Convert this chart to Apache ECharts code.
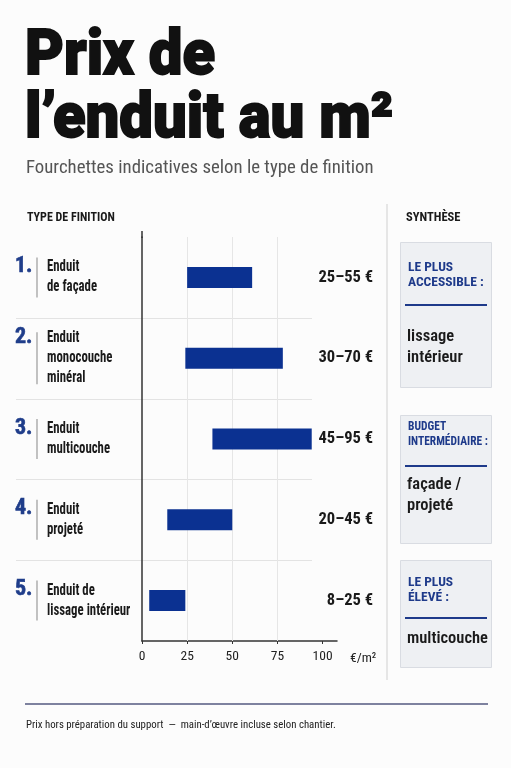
<!DOCTYPE html>
<html><head><meta charset="utf-8">
<script src="https://cdn.jsdelivr.net/npm/echarts@6/dist/echarts.min.js"></script>
<style>html,body{margin:0;padding:0;background:#fcfcfc;} #c{width:511px;height:768px;}</style>
</head><body><div id="c"></div>
<script>
const categories = ['Enduit\nde façade','Enduit\nmonocouche\nminéral','Enduit\nmulticouche','Enduit\nprojeté','Enduit de\nlissage intérieur'];
const ranks = ['1.','2.','3.','4.','5.'];
const barStart = [25, 24, 39, 14, 4];
const barEnd = [61, 78, 94, 50, 24];
const rangeLabels = ['25–55 €','30–70 €','45–95 €','20–45 €','8–25 €'];
const xTicks = [0, 25, 50, 75, 100];
const gridValues = [25, 50, 75];

const COND = "'Roboto Condensed',Roboto,sans-serif";
const BLUE = '#0b3191';
const NAVY = '#1e3a8a';
const chart = echarts.init(document.getElementById('c'), null, {renderer:'canvas'});

const option = {
  backgroundColor: '#fcfcfc',
  animation: false,
  grid: {left: 142, right: 174, top: 237, bottom: 127, containLabel: false},
  xAxis: {
    type: 'value', min: 0, max: 108,
    axisLine: {show: true, lineStyle: {color: '#333', width: 1.5}},
    axisTick: {show: true, length: 3, customValues: xTicks, lineStyle: {color: '#333'}},
    axisLabel: {customValues: xTicks, color: '#222', fontSize: 13.5, fontFamily: COND, margin: 9},
    splitLine: {show: false},
    name: '€/m²', nameLocation: 'end', nameGap: 13,
    nameTextStyle: {color: '#222', fontSize: 13.5, fontFamily: COND, verticalAlign: 'top', padding: [11, 0, 0, 0]}
  },
  yAxis: [{
    type: 'category', data: categories, inverse: true,
    axisLine: {show: true, lineStyle: {color: '#333', width: 1.5}},
    axisTick: {show: false},
    axisLabel: {show: false}
  }, {
    type: 'category', data: categories, inverse: true, position: 'right',
    axisLine: {show: false}, axisTick: {show: false},
    axisLabel: {align: 'right', margin: 36, formatter: (v, i) => rangeLabels[i],
      fontSize: 16.5, fontWeight: 'bold', color: '#1a1a1a', fontFamily: COND}
  }],
  series: [{
    type: 'bar', stack: 'r', data: barStart, itemStyle: {color: 'transparent'}, silent: true, barWidth: 21, z: 1,
    markLine: {
      silent: true, symbol: 'none', label: {show: false}, z: 1,
      lineStyle: {color: '#e6e6e6', width: 1, type: 'solid'},
      data: gridValues.map(v => ({xAxis: v}))
    }
  }, {
    type: 'bar', stack: 'r', barWidth: 21, z: 3,
    data: barEnd.map((e, i) => e - barStart[i]),
    itemStyle: {color: BLUE}
  }]
};
chart.setOption(option);

// decorations
const g = [];
function txt(text, x, y, size, weight, color, family, extra, elExtra) {
  g.push(Object.assign({type: 'text', x: x, y: y, style: Object.assign({text: text, fontSize: size, fontWeight: weight, fontFamily: family || COND, fill: color, textVerticalAlign: 'middle'}, extra || {})}, elExtra || {}));
}
txt('Prix de\nl’enduit au m²', 25, 90, 63, 900, '#111', "Roboto,sans-serif", {lineHeight: 63, stroke: '#111', lineWidth: 1.8}, {scaleX: 0.95});
txt('Fourchettes indicatives selon le type de finition', 26, 168, 18.8, 'normal', '#555');
txt('TYPE DE FINITION', 27, 218, 12, 'bold', '#1a1a1a');
txt('SYNTHÈSE', 406, 218, 12.5, 'bold', '#1a1a1a');
g.push({type: 'line', shape: {x1: 387, y1: 204, x2: 387, y2: 680}, style: {stroke: '#d0d0d0', lineWidth: 1}});
g.push({type: 'line', shape: {x1: 142, y1: 231, x2: 142, y2: 238}, style: {stroke: '#333', lineWidth: 1.5}});

// category labels, row separators and rank bars
const centers = categories.map((c, i) => chart.convertToPixel({yAxisIndex: 0}, i));
for (let i = 0; i < centers.length - 1; i++) {
  const y = Math.round((centers[i] + centers[i + 1]) / 2) + 0.5;
  g.push({type: 'line', shape: {x1: 16, y1: y, x2: 312, y2: y}, style: {stroke: '#e3e3e3', lineWidth: 1}});
}
centers.forEach((cy, i) => {
  const n = categories[i].split('\n').length;
  const h = 16 + 12 * n;
  g.push({type: 'line', shape: {x1: 37, y1: cy - h / 2, x2: 37, y2: cy + h / 2}, style: {stroke: '#9a9a9a', lineWidth: 1.2}});
  txt(ranks[i], 15, cy - (n - 1) * 10 - 1, 22, 'bold', '#1f3d8a', COND, {stroke: '#1f3d8a', lineWidth: 0.6});
  txt(categories[i], 47, cy, 16, 'bold', '#1a1a1a', COND, {lineHeight: 20}, {scaleX: 0.8});
});

// synthesis boxes
const boxes = [
  {top: 242, bottom: 387, head: 'LE PLUS\nACCESSIBLE :', headY: 275, hs: 1, line: 305, body: 'lissage\nintérieur', bodyY: 347},
  {top: 415, bottom: 543, head: 'BUDGET\nINTERMÉDIAIRE :', headY: 434, hs: 0.85, line: 466, body: 'façade /\nprojeté', bodyY: 495},
  {top: 560, bottom: 667, head: 'LE PLUS\nÉLEVÉ :', headY: 590, hs: 1, line: 618, body: 'multicouche', bodyY: 639}
];
boxes.forEach(b => {
  g.push({type: 'rect', shape: {x: 400.5, y: b.top + 0.5, width: 91, height: b.bottom - b.top}, style: {fill: '#eef0f3', stroke: '#d9dce2', lineWidth: 1}});
  txt(b.head, 408, b.headY, 13.5, 'bold', NAVY, COND, {lineHeight: 15}, {scaleX: b.hs});
  g.push({type: 'line', shape: {x1: 405, y1: b.line, x2: 487, y2: b.line}, style: {stroke: NAVY, lineWidth: 2}});
  txt(b.body, 407, b.bodyY, 16.5, 600, '#1a1a1a', COND, {lineHeight: 21});
});

g.push({type: 'line', shape: {x1: 25, y1: 704, x2: 488, y2: 704}, style: {stroke: '#555a80', lineWidth: 1.5}});
txt('Prix hors préparation du support  —  main-d’œuvre incluse selon chantier.', 26, 725, 10.8, 'normal', '#222');

chart.setOption({graphic: g});
</script></body></html>
